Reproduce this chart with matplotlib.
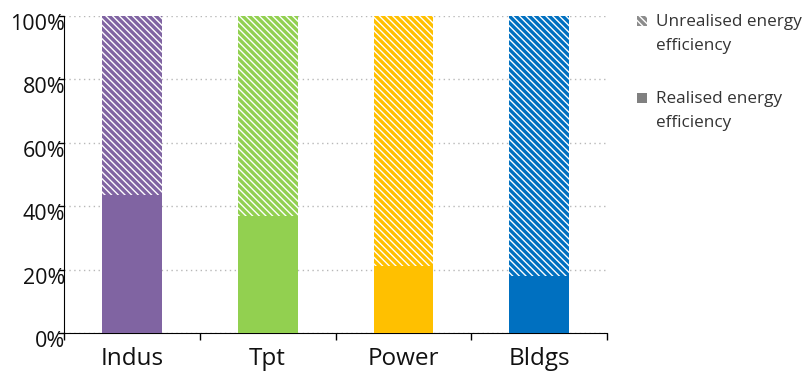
import matplotlib
matplotlib.use("Agg")
import matplotlib.pyplot as plt
import matplotlib.transforms as mtransforms
from matplotlib.patches import Rectangle
import numpy as np

categories = ["Indus", "Tpt", "Power", "Bldgs"]
realised = [43.5, 36.9, 21.2, 18.0]
unrealised = [100 - v for v in realised]
colors = ["#8064A2", "#92D050", "#FFC000", "#0070C0"]
yticks = [0, 20, 40, 60, 80, 100]
ytick_labels = ["0%", "20%", "40%", "60%", "80%", "100%"]
legend_labels = ["Unrealised energy\nefficiency", "Realised energy\nefficiency"]

plt.rcParams['font.family'] = ['Open Sans', 'DejaVu Sans']
plt.rcParams['hatch.linewidth'] = 2.4

fig = plt.figure(figsize=(8.07, 3.76), dpi=100)
ax = fig.add_axes([0.0793, 0.1144, 0.673, 0.843])

x = np.arange(len(categories))
w = 0.44
HATCH = "\\\\\\\\\\"
ax.bar(x, realised, width=w, color=colors, linewidth=0, zorder=3)
for xi, r, u, c in zip(x, realised, unrealised, colors):
    ax.bar(xi, u, bottom=r, width=w, facecolor="white", edgecolor=c,
           hatch=HATCH, linewidth=0, zorder=3)

ax.set_xlim(-0.5, 3.5)
ax.set_ylim(0, 100)
ax.set_yticks(yticks)
ax.set_yticklabels(ytick_labels, fontsize=15.5, color="#111111")
ax.set_xticks(x)
ax.set_xticklabels(categories, fontsize=17.5, color="#111111")
ax.tick_params(axis='x', which='major', length=0, pad=10)
ax.set_xticks([-0.5, 0.5, 1.5, 2.5, 3.5], minor=True)
ax.tick_params(axis='x', which='minor', length=5, direction='out', width=1)
ax.tick_params(axis='y', length=4, direction='out', width=1, pad=-5)
offset = mtransforms.ScaledTranslation(0, -6 / 100, fig.dpi_scale_trans)
for lab in ax.get_yticklabels():
    lab.set_transform(lab.get_transform() + offset)

ax.grid(axis='y', linestyle=(0, (1, 2.5)), color="#b8b8b8", linewidth=1, zorder=0)
for s in ["top", "right"]:
    ax.spines[s].set_visible(False)
ax.spines["left"].set_color("black")
ax.spines["bottom"].set_color("black")

# legend (manual, marker aligned with first text line)
W, H = fig.get_size_inches() * fig.dpi
leg_x = 637
leg_y = [21, 98]
hatches = [HATCH, None]
for lbl, ly, h in zip(legend_labels, leg_y, hatches):
    if h:
        r = Rectangle((leg_x / W, 1 - (ly + 5) / H), 10 / W, 10 / H, transform=fig.transFigure,
                      facecolor="white", edgecolor="#8c8c8c", hatch=h, linewidth=0)
    else:
        r = Rectangle((leg_x / W, 1 - (ly + 5) / H), 10 / W, 10 / H, transform=fig.transFigure,
                      facecolor="#808080", edgecolor="#808080", linewidth=0)
    fig.add_artist(r)
    fig.text(656 / W, 1 - (ly - 7) / H, lbl, fontsize=12.3, color="#333333",
             va="top", ha="left", linespacing=1.65)

fig.savefig("out.png", dpi=100)
